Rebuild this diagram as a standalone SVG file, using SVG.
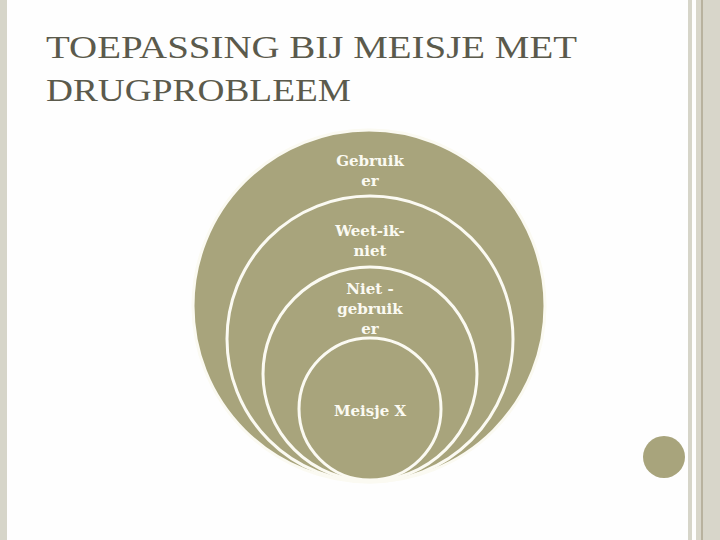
<svg xmlns="http://www.w3.org/2000/svg" width="720" height="540" viewBox="0 0 720 540">
<style>
.c{fill:#a8a47c;stroke:#fbfaf2;stroke-width:3}
.t{font-family:'DejaVu Serif','Liberation Serif',serif;font-weight:bold;font-size:15px;fill:#fbfaf2;text-anchor:middle}
.h{font-family:'Liberation Serif','DejaVu Serif',serif;font-size:31px;fill:#5b5a4c}
</style>
<rect width="720" height="540" fill="#fefefe"/>
<rect x="0" y="0" width="7" height="540" fill="#d6d5c9"/>
<rect x="688" y="0" width="4" height="540" fill="#d6d5c9"/>
<rect x="696" y="0" width="24" height="540" fill="#d8d6ca"/>
<rect x="701" y="0" width="2" height="540" fill="#b8b29e"/>
<circle cx="664" cy="457" r="21" fill="#a8a47c"/>
<text class="h" x="46" y="58" textLength="531" lengthAdjust="spacingAndGlyphs" font-family="Liberation Serif, serif">TOEPASSING BIJ MEISJE MET</text>
<text class="h" x="46" y="101" textLength="305" lengthAdjust="spacingAndGlyphs" font-family="Liberation Serif, serif">DRUGPROBLEEM</text>
<g id="gebruiker"><circle class="c" cx="369" cy="306" r="176"/><text class="t" x="370" y="166">Gebruik</text><text class="t" x="370" y="186">er</text></g>
<g id="weetikniet"><circle class="c" cx="370" cy="339" r="143"/><text class="t" x="370" y="236">Weet-ik-</text><text class="t" x="370" y="256">niet</text></g>
<g id="nietgebruiker"><circle class="c" cx="370" cy="374" r="107"/><text class="t" x="370" y="294">Niet -</text><text class="t" x="370" y="314">gebruik</text><text class="t" x="370" y="334">er</text></g>
<g id="meisjex"><circle class="c" cx="370" cy="409" r="71"/><text class="t" x="370" y="416">Meisje X</text></g>
<g id="connectors"/>
</svg>
